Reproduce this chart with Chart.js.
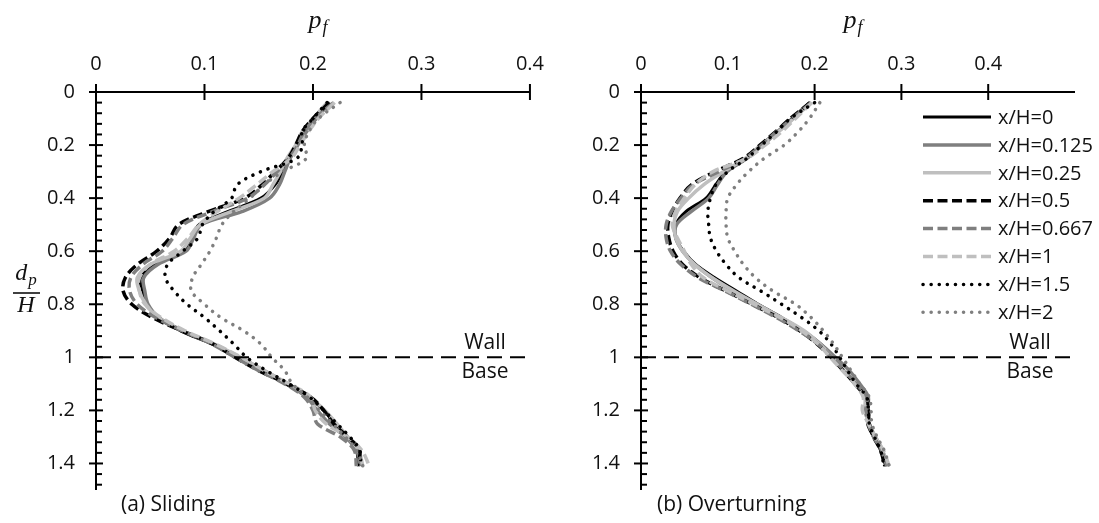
<!DOCTYPE html>
<html>
<head>
<meta charset="utf-8">
<script src="https://cdn.jsdelivr.net/npm/chart.js@4.4.1/dist/chart.umd.min.js"></script>
<style>
  body { margin: 0; background: #fff; }
  #wrap { position: relative; width: 1099px; height: 523px; overflow: hidden; }
  #wrap canvas { position: absolute; top: 0; }
</style>
</head>
<body>
<div id="wrap">
  <canvas id="sliding" width="560" height="523" style="left:0"></canvas>
  <canvas id="overturning" width="539" height="523" style="left:560px"></canvas>
</div>
<script>
// depth below the top of the wall, d_p/H
var depths = [0.04, 0.1, 0.15, 0.2, 0.25, 0.3, 0.35, 0.4, 0.45, 0.5, 0.55, 0.6, 0.65, 0.7,
              0.75, 0.8, 0.85, 0.9, 0.95, 1.0, 1.05, 1.1, 1.15, 1.2, 1.25, 1.3, 1.35, 1.41];

var seriesLabels = ['x/H=0', 'x/H=0.125', 'x/H=0.25', 'x/H=0.5', 'x/H=0.667', 'x/H=1', 'x/H=1.5', 'x/H=2'];

var xTicksA = [0, 0.1, 0.2, 0.3, 0.4];
var xTicksB = [0, 0.1, 0.2, 0.3, 0.4];
var yTicks = [0, 0.2, 0.4, 0.6, 0.8, 1, 1.2, 1.4];

// (a) sliding, p_f at each depth
var slideH0    = [0.214, 0.202, 0.193, 0.185, 0.178, 0.172, 0.165, 0.152, 0.122, 0.095, 0.089, 0.080, 0.054, 0.041, 0.043, 0.047, 0.057, 0.078, 0.107, 0.131, 0.154, 0.175, 0.196, 0.210, 0.220, 0.232, 0.240, 0.242];
var slideH0125 = [0.216, 0.203, 0.194, 0.186, 0.179, 0.174, 0.169, 0.160, 0.135, 0.097, 0.090, 0.083, 0.057, 0.044, 0.045, 0.048, 0.058, 0.080, 0.108, 0.132, 0.155, 0.176, 0.194, 0.204, 0.215, 0.230, 0.240, 0.244];
var slideH025  = [0.213, 0.200, 0.190, 0.184, 0.176, 0.170, 0.163, 0.155, 0.125, 0.096, 0.087, 0.078, 0.050, 0.038, 0.040, 0.046, 0.057, 0.080, 0.109, 0.133, 0.155, 0.177, 0.197, 0.211, 0.222, 0.232, 0.242, 0.246];
var slideH05   = [0.215, 0.200, 0.190, 0.184, 0.177, 0.165, 0.153, 0.137, 0.104, 0.076, 0.068, 0.056, 0.038, 0.027, 0.025, 0.033, 0.052, 0.079, 0.108, 0.128, 0.150, 0.176, 0.198, 0.210, 0.219, 0.232, 0.243, 0.241];
var slideH0667 = [0.219, 0.202, 0.192, 0.186, 0.178, 0.167, 0.155, 0.140, 0.108, 0.080, 0.071, 0.061, 0.043, 0.032, 0.031, 0.038, 0.055, 0.080, 0.107, 0.128, 0.150, 0.174, 0.192, 0.200, 0.204, 0.225, 0.238, 0.240];
var slideH1    = [0.220, 0.205, 0.196, 0.188, 0.180, 0.163, 0.148, 0.132, 0.112, 0.095, 0.085, 0.072, 0.050, 0.040, 0.040, 0.045, 0.060, 0.082, 0.110, 0.134, 0.155, 0.178, 0.198, 0.202, 0.212, 0.232, 0.245, 0.252];
var slideH15   = [0.213, 0.200, 0.190, 0.190, 0.185, 0.152, 0.130, 0.125, 0.109, 0.098, 0.094, 0.080, 0.066, 0.064, 0.072, 0.084, 0.100, 0.114, 0.127, 0.139, 0.157, 0.178, 0.197, 0.210, 0.222, 0.234, 0.243, 0.244];
var slideH2    = [0.225, 0.205, 0.196, 0.192, 0.194, 0.172, 0.155, 0.142, 0.127, 0.116, 0.111, 0.105, 0.097, 0.089, 0.088, 0.100, 0.115, 0.136, 0.152, 0.162, 0.174, 0.181, 0.195, 0.206, 0.218, 0.230, 0.240, 0.246];

// (b) overturning
var overH0    = [0.194, 0.174, 0.157, 0.138, 0.122, 0.098, 0.086, 0.075, 0.052, 0.040, 0.040, 0.049, 0.063, 0.085, 0.110, 0.135, 0.162, 0.187, 0.207, 0.221, 0.233, 0.246, 0.258, 0.262, 0.261, 0.268, 0.276, 0.282];
var overH0125 = [0.195, 0.175, 0.158, 0.140, 0.122, 0.099, 0.088, 0.078, 0.058, 0.041, 0.040, 0.048, 0.062, 0.082, 0.106, 0.133, 0.160, 0.186, 0.207, 0.224, 0.240, 0.252, 0.262, 0.260, 0.262, 0.270, 0.278, 0.284];
var overH025  = [0.196, 0.176, 0.158, 0.138, 0.120, 0.095, 0.072, 0.055, 0.042, 0.038, 0.040, 0.048, 0.062, 0.082, 0.107, 0.134, 0.162, 0.188, 0.206, 0.220, 0.234, 0.248, 0.258, 0.258, 0.263, 0.270, 0.278, 0.284];
var overH05   = [0.195, 0.172, 0.155, 0.137, 0.118, 0.085, 0.058, 0.045, 0.036, 0.031, 0.032, 0.037, 0.048, 0.068, 0.098, 0.128, 0.158, 0.183, 0.203, 0.219, 0.233, 0.247, 0.260, 0.262, 0.263, 0.268, 0.276, 0.281];
var overH0667 = [0.196, 0.174, 0.156, 0.139, 0.120, 0.090, 0.060, 0.046, 0.035, 0.029, 0.029, 0.034, 0.046, 0.066, 0.097, 0.127, 0.156, 0.182, 0.204, 0.220, 0.234, 0.248, 0.260, 0.259, 0.262, 0.268, 0.277, 0.283];
var overH1    = [0.197, 0.178, 0.162, 0.143, 0.122, 0.083, 0.062, 0.050, 0.040, 0.036, 0.042, 0.050, 0.058, 0.072, 0.100, 0.130, 0.160, 0.185, 0.204, 0.218, 0.232, 0.246, 0.256, 0.255, 0.262, 0.270, 0.279, 0.286];
var overH15   = [0.200, 0.172, 0.156, 0.139, 0.122, 0.100, 0.086, 0.080, 0.077, 0.078, 0.080, 0.087, 0.098, 0.113, 0.138, 0.162, 0.185, 0.205, 0.219, 0.229, 0.238, 0.248, 0.260, 0.262, 0.263, 0.269, 0.276, 0.280];
var overH2    = [0.206, 0.194, 0.181, 0.165, 0.142, 0.124, 0.110, 0.100, 0.098, 0.098, 0.100, 0.108, 0.118, 0.132, 0.152, 0.178, 0.196, 0.210, 0.222, 0.232, 0.242, 0.252, 0.263, 0.265, 0.266, 0.272, 0.280, 0.286];

var BLACK = '#000000', GRAY = '#7f7f7f', LIGHT = '#bfbfbf';
var lineStyles = [
  { color: BLACK, width: 3,   dash: [],        cap: 'butt' },
  { color: GRAY,  width: 3.5, dash: [],        cap: 'butt' },
  { color: LIGHT, width: 3.5, dash: [],        cap: 'butt' },
  { color: BLACK, width: 3.5, dash: [10, 4.5], cap: 'butt' },
  { color: GRAY,  width: 3.5, dash: [10, 4.5], cap: 'butt' },
  { color: LIGHT, width: 3.5, dash: [10, 4.5], cap: 'butt' },
  { color: BLACK, width: 3.5, dash: [0.1, 8],  cap: 'round' },
  { color: GRAY,  width: 3.5, dash: [0.1, 8],  cap: 'round' }
];

var TEXT = '#111';
var SANS = '"Open Sans", "Noto Sans", sans-serif';
var SERIF = '"Liberation Serif", "DejaVu Serif", serif';

function fmt(v) { return String(+v.toFixed(2)); }

function line(ctx, x1, y1, x2, y2) {
  ctx.beginPath(); ctx.moveTo(x1, y1); ctx.lineTo(x2, y2); ctx.stroke();
}

// italic symbol with a subscript, centred on cx
function symbol(ctx, base, sub, cx, cy, size) {
  ctx.font = 'italic ' + size + 'px ' + SERIF;
  var wb = ctx.measureText(base).width;
  ctx.font = 'italic ' + Math.round(size * 0.7) + 'px ' + SERIF;
  var ws = ctx.measureText(sub).width;
  var x = cx - (wb + ws + 1) / 2;
  ctx.textAlign = 'left';
  ctx.textBaseline = 'alphabetic';
  ctx.font = 'italic ' + size + 'px ' + SERIF;
  ctx.fillText(base, x, cy + size * 0.18);
  ctx.font = 'italic ' + Math.round(size * 0.7) + 'px ' + SERIF;
  ctx.fillText(sub, x + wb + 1, cy + size * 0.38);
}

// axis lines, tick marks, wall/base line and the labels around the plot
var decor = {
  id: 'decor',
  afterDraw: function (chart, args, o) {
    var ctx = chart.ctx, xs = chart.scales.x, ys = chart.scales.y;
    var x0 = xs.getPixelForValue(0), x1 = xs.getPixelForValue(xs.max);
    var y0 = ys.getPixelForValue(0), y1 = ys.getPixelForValue(ys.max);
    ctx.save();
    ctx.strokeStyle = '#000';
    ctx.lineWidth = 2;

    var yw = ys.getPixelForValue(1);
    ctx.setLineDash([15, 8]);
    line(ctx, x0, yw, x1, yw);
    ctx.setLineDash([]);

    line(ctx, x0, y0, x1, y0);
    line(ctx, x0, y0, x0, y1);
    o.xTicks.forEach(function (v) {
      var px = xs.getPixelForValue(v);
      line(ctx, px, y0 - 8, px, y0 + 8);
    });
    for (var k = 0; k * 0.04 < ys.max - 1e-9; k++) {
      var py = ys.getPixelForValue(k * 0.04);
      if (k % 5 === 0) line(ctx, x0 - 7, py, x0 + 7, py);
      else line(ctx, x0, py, x0 + 6, py);
    }

    ctx.fillStyle = TEXT;
    symbol(ctx, 'p', 'f', o.titleX, 23, 26);

    ctx.font = '21px ' + SANS;
    ctx.textAlign = 'center';
    ctx.textBaseline = 'middle';
    ctx.fillText('Wall', o.wallX, yw - 14);
    ctx.fillText('Base', o.wallX, yw + 15);

    ctx.font = '21px ' + SANS;
    ctx.textAlign = 'left';
    ctx.fillText(o.panel, o.panelX, 505);

    if (o.fraction) {
      symbol(ctx, 'd', 'p', 26, 276, 24);
      ctx.lineWidth = 1.5;
      line(ctx, 13, 293, 40, 293);
      ctx.font = 'italic 24px ' + SERIF;
      ctx.textAlign = 'center';
      ctx.textBaseline = 'middle';
      ctx.fillText('H', 26, 306);
    }

    if (o.legend) {
      chart.data.datasets.forEach(function (ds, i) {
        var ly = o.legend.y + i * 27.9;
        ctx.strokeStyle = ds.borderColor;
        ctx.lineWidth = ds.borderWidth;
        ctx.lineCap = ds.borderCapStyle;
        ctx.setLineDash(ds.borderDash);
        line(ctx, o.legend.x, ly, o.legend.x + 68, ly);
        ctx.setLineDash([]);
        ctx.lineCap = 'butt';
        ctx.fillStyle = TEXT;
        ctx.font = '20px ' + SANS;
        ctx.textAlign = 'left';
        ctx.textBaseline = 'middle';
        ctx.fillText(ds.label, o.legend.x + 75, ly + 1);
      });
    }
    ctx.restore();
  }
};

function makeChart(id, series, cfg) {
  var datasets = series.map(function (vals, i) {
    var st = lineStyles[i];
    return {
      label: seriesLabels[i],
      data: depths.map(function (d, k) { return { x: vals[k], y: d }; }),
      showLine: true,
      borderColor: st.color,
      backgroundColor: st.color,
      borderWidth: st.width,
      borderDash: st.dash,
      borderCapStyle: st.cap,
      borderJoinStyle: 'round',
      pointRadius: 0,
      tension: 0.35,
      fill: false,
      order: -i
    };
  });

  return new Chart(document.getElementById(id), {
    type: 'scatter',
    data: { datasets: datasets },
    options: {
      responsive: false,
      animation: false,
      events: [],
      layout: { padding: { left: 0, top: 0, right: cfg.padRight, bottom: 2 } },
      plugins: {
        legend: { display: false },
        tooltip: { enabled: false },
        decor: cfg.decor
      },
      scales: {
        x: {
          type: 'linear',
          position: 'top',
          min: 0,
          max: cfg.xMax,
          ticks: {
            stepSize: 0.1,
            padding: 16,
            color: TEXT,
            font: { family: SANS, size: 20 },
            callback: function (v) { return cfg.decor.xTicks.indexOf(+v.toFixed(2)) >= 0 ? fmt(v) : ''; }
          },
          grid: { display: false, drawTicks: false },
          border: { display: false },
          afterFit: function (s) { s.height = 92; }
        },
        y: {
          type: 'linear',
          reverse: true,
          min: 0,
          max: 1.5,
          ticks: {
            stepSize: 0.2,
            padding: 21,
            color: TEXT,
            font: { family: SANS, size: 20 },
            callback: function (v) { return yTicks.indexOf(+v.toFixed(2)) >= 0 ? fmt(v) : ''; }
          },
          grid: { display: false, drawTicks: false },
          border: { display: false },
          afterFit: function (s) { s.width = cfg.axisLeft; }
        }
      }
    },
    plugins: [decor]
  });
}

makeChart('sliding',
  [slideH0, slideH0125, slideH025, slideH05, slideH0667, slideH1, slideH15, slideH2],
  {
    xMax: 0.4, padRight: 29, axisLeft: 96,
    decor: { xTicks: xTicksA, titleX: 318, wallX: 485, panel: '(a) Sliding', panelX: 121, fraction: true }
  });

makeChart('overturning',
  [overH0, overH0125, overH025, overH05, overH0667, overH1, overH15, overH2],
  {
    xMax: 0.5, padRight: 24, axisLeft: 81,
    decor: { xTicks: xTicksB, titleX: 293, wallX: 470, panel: '(b) Overturning', panelX: 97,
             legend: { x: 363, y: 117 } }
  });
</script>
</body>
</html>
